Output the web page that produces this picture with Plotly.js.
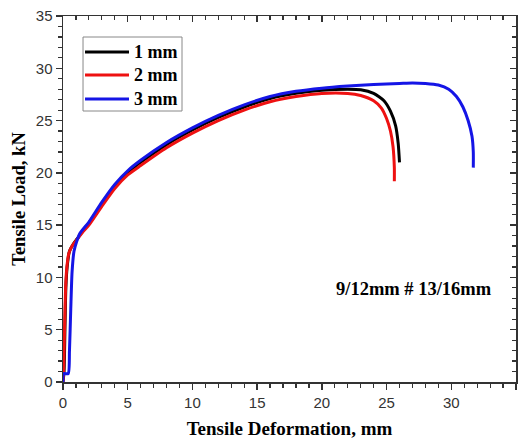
<!DOCTYPE html>
<html>
<head>
<meta charset="utf-8">
<script src="https://cdn.plot.ly/plotly-3.0.1.min.js"></script>
<style>html,body{margin:0;padding:0;background:#fff;}#chart{width:524px;height:441px;}</style>
</head>
<body>
<div id="chart"></div>
<script>
// Series 1 mm (black)
const x1 = [0,0.08,0.15,0.22,0.32,0.5,0.8,1.1,1.5,2,3,4,5,6,8,10,12,14,16,18,20,22,23,24,24.8,25.3,25.7,25.9,26];
const y1 = [0,1,5,9,11,12.5,13.2,13.7,14.4,15.2,17,18.7,20,21,22.7,24.1,25.3,26.3,27.1,27.6,27.9,28,27.95,27.6,26.9,25.9,24.5,22.8,21];
// Series 2 mm (red)
const x2 = [0,0.05,0.12,0.2,0.3,0.45,0.7,1.0,1.5,2,3,4,5,6,8,10,12,14,16,18,20,22,23,24,24.6,25,25.3,25.5,25.6,25.6];
const y2 = [0,1,5,9,11,12.3,13,13.5,14.3,15,16.8,18.5,19.8,20.7,22.4,23.8,25,26,26.8,27.3,27.6,27.6,27.4,26.9,26.2,25.2,24,22.5,20.5,19.2];
// Series 3 mm (blue)
const x3 = [0,0.05,0.4,0.5,0.6,0.7,0.85,1.05,1.3,2,3,4,5,6,8,10,12,14,16,18,20,22,24,26,27,28,29,29.8,30.4,30.9,31.3,31.6,31.7,31.7];
const y3 = [0,0.8,0.8,3,7,10.5,12.5,13.4,14.2,15.3,17.2,18.9,20.2,21.2,22.9,24.3,25.5,26.5,27.3,27.8,28.1,28.3,28.45,28.55,28.6,28.55,28.4,28.0,27.3,26.3,25,23.5,22,20.5];

const names = ['1 mm','2 mm','3 mm'];
const colors = ['#000000','#ee1111','#1515e6'];
const tickValues = [0,5,10,15,20,25,30,35];
const xTitle = 'Tensile Deformation, mm';
const yTitle = 'Tensile Load, kN';
const noteText = '9/12mm # 13/16mm';

const serifBold = 'Liberation Serif, Times New Roman, serif';
const xs = [x1,x2,x3], ys = [y1,y2,y3];
const traces = xs.map((x,i)=>({
  x:x, y:ys[i], type:'scatter', mode:'lines', name:names[i], showlegend:false,
  line:{color:colors[i], width:3, shape:'spline', smoothing:0.6}
}));
traces.push({x:[0],y:[0],xaxis:'x2',yaxis:'y2',mode:'markers',marker:{opacity:0},showlegend:false,hoverinfo:'skip'});

// Manual legend (paper coordinates)
const legBox = {x0:0.0442, x1:0.2627, y0:0.7404, y1:0.9426};
const legRows = [0.9016, 0.8388, 0.7732];
const shapes = [{type:'rect', xref:'paper', yref:'paper', x0:legBox.x0, x1:legBox.x1, y0:legBox.y0, y1:legBox.y1,
  line:{color:'#888', width:1}, fillcolor:'#fff', layer:'below'}];
const annotations = [];
names.forEach((n,i)=>{
  shapes.push({type:'line', xref:'paper', yref:'paper', x0:0.0486, x1:0.1457, y0:legRows[i], y1:legRows[i],
    line:{color:colors[i], width:3}});
  annotations.push({xref:'paper', yref:'paper', x:0.1523, y:legRows[i], xanchor:'left', yanchor:'middle',
    text:n, showarrow:false, font:{family:serifBold, size:18, color:'#000', weight:'bold'}});
});
annotations.push({x:27.15, y:8.9, xref:'x', yref:'y', text:noteText, showarrow:false,
  font:{family:serifBold, size:18.5, color:'#000', weight:'bold'}});

const tickFont = {family:'Liberation Sans, Arial, sans-serif', size:15, color:'#333'};
const minorOut = {dtick:1, ticks:'outside', ticklen:4, tickcolor:'#333', tickwidth:1.2};
const minorIn = {dtick:1, ticks:'inside', ticklen:4, tickcolor:'#333', tickwidth:1.2};
const layout = {
  width:524, height:441,
  margin:{l:63, r:8, t:16, b:59},
  paper_bgcolor:'#fff', plot_bgcolor:'#fff',
  showlegend:false,
  xaxis:{range:[0,35], tickvals:tickValues, ticks:'outside', ticklen:6, tickwidth:1.5,
    tickcolor:'#333', linecolor:'#333', linewidth:1.5, showgrid:false, zeroline:false,
    tickfont:tickFont, minor:minorOut,
    title:{text:xTitle, font:{family:serifBold, size:19, color:'#000', weight:'bold'}, standoff:12}},
  yaxis:{range:[0,35], tickvals:tickValues, ticks:'outside', ticklen:6, tickwidth:1.5,
    tickcolor:'#333', linecolor:'#333', linewidth:1.5, showgrid:false, zeroline:false,
    tickfont:tickFont, minor:minorOut,
    title:{text:yTitle, font:{family:serifBold, size:18.5, color:'#000', weight:'bold'}, standoff:5}},
  xaxis2:{range:[0,35], overlaying:'x', side:'top', anchor:'y', tickvals:tickValues,
    ticks:'inside', ticklen:6, tickwidth:1.5, tickcolor:'#333', linecolor:'#333', linewidth:1.5,
    showticklabels:false, showgrid:false, zeroline:false, minor:minorIn},
  yaxis2:{range:[0,35], overlaying:'y', side:'right', anchor:'x', tickvals:tickValues,
    ticks:'inside', ticklen:6, tickwidth:1.5, tickcolor:'#333', linecolor:'#333', linewidth:1.5,
    showticklabels:false, showgrid:false, zeroline:false, minor:minorIn},
  shapes:shapes,
  annotations:annotations
};
Plotly.newPlot('chart', traces, layout, {displayModeBar:false, staticPlot:true});
</script>
</body>
</html>
